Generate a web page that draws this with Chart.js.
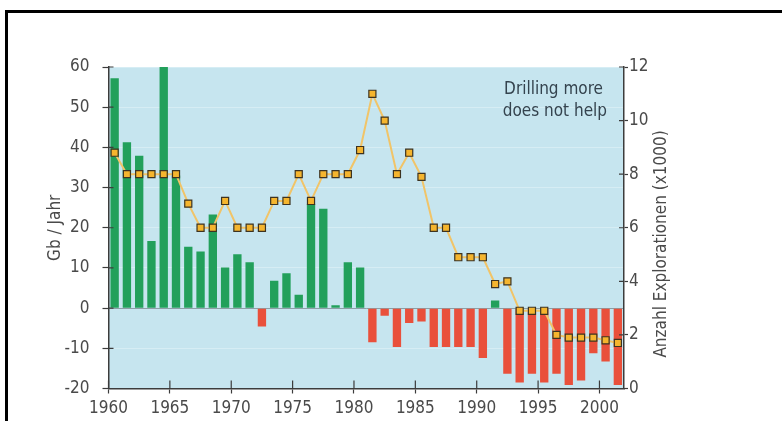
<!DOCTYPE html>
<html>
<head>
<meta charset="utf-8">
<script src="https://cdn.jsdelivr.net/npm/chart.js@4.4.1/dist/chart.umd.min.js"></script>
<style>
  html, body { margin: 0; padding: 0; background: #fff; }
  #wrap { position: relative; width: 782px; height: 421px; overflow: hidden; }
  #frame { position: absolute; left: 5px; top: 10px; width: 820px; height: 460px; border-top: 3px solid #000; border-left: 3px solid #000; }
  #oilChart { position: absolute; left: 0; top: 0; }
</style>
</head>
<body>
<div id="wrap">
  <div id="frame"></div>
  <canvas id="oilChart" width="782" height="421"></canvas>
</div>
<script>
// years shown as bars / markers
const years = [1960, 1961, 1962, 1963, 1964, 1965, 1966, 1967, 1968, 1969,
               1970, 1971, 1972, 1973, 1974, 1975, 1976, 1977, 1978, 1979,
               1980, 1981, 1982, 1983, 1984, 1985, 1986, 1987, 1988, 1989,
               1990, 1991, 1992, 1993, 1994, 1995, 1996, 1997, 1998, 1999,
               2000, 2001];

// Gb / Jahr (left axis)
const gbPerYear = [57.2, 41.3, 37.9, 16.7, 60, 33, 15.3, 14.1, 23.3, 10.1,
                   13.4, 11.4, -4.6, 6.8, 8.7, 3.3, 25.9, 24.7, 0.7, 11.4,
                   10.1, -8.5, -1.9, -9.7, -3.7, -3.3, -9.7, -9.7, -9.7, -9.7,
                   -12.4, 1.9, -16.3, -18.5, -16.3, -18.5, -16.3, -19.1, -18, -11.2,
                   -13.3, -19.1];

// Anzahl Explorationen x1000 (right axis)
const explorations = [8.8, 8, 8, 8, 8, 8, 6.9, 6, 6, 7,
                      6, 6, 6, 7, 7, 8, 7, 8, 8, 8,
                      8.9, 11, 10, 8, 8.8, 7.9, 6, 6, 4.9, 4.9,
                      4.9, 3.9, 4, 2.9, 2.9, 2.9, 2, 1.9, 1.9, 1.9,
                      1.8, 1.7];

const xTicks = [1960, 1965, 1970, 1975, 1980, 1985, 1990, 1995, 2000];
const leftTicks = [-20, -10, 0, 10, 20, 30, 40, 50, 60];
const rightTicks = [0, 2, 4, 6, 8, 10, 12];

const fontFamily = '"Liberation Sans Narrow", "DejaVu Sans Condensed", "Arial Narrow", sans-serif';
const textColor = '#4a4a4a';
const axisColor = '#3c3c3c';

Chart.defaults.font.family = fontFamily;
Chart.defaults.color = textColor;

// light blue plot background
const plotBg = {
    id: 'plotBg',
    beforeDraw(chart) {
        const { ctx, chartArea: a } = chart;
        ctx.save();
        ctx.fillStyle = '#c6e5ef';
        ctx.fillRect(a.left, a.top, a.right - a.left, a.bottom - a.top);
        ctx.restore();
    }
};

// tick marks that also reach into the plot, right title, note text
const extras = {
    id: 'extras',
    afterDatasetsDraw(chart) {
        const { ctx, chartArea: a, scales } = chart;
        ctx.save();
        ctx.strokeStyle = axisColor;
        ctx.lineWidth = 1.2;
        ctx.beginPath();
        xTicks.forEach(v => {
            const px = scales.x.getPixelForValue(v);
            ctx.moveTo(px, a.bottom);
            ctx.lineTo(px, a.bottom - 8);
        });
        leftTicks.forEach(v => {
            const py = scales.y.getPixelForValue(v);
            ctx.moveTo(a.left, py);
            ctx.lineTo(a.left + 5, py);
        });
        rightTicks.forEach(v => {
            const py = scales.y1.getPixelForValue(v);
            ctx.moveTo(a.right, py);
            ctx.lineTo(a.right - 5, py);
        });
        ctx.stroke();

        // right axis title, reads bottom to top
        ctx.fillStyle = textColor;
        ctx.font = '17px ' + fontFamily;
        ctx.textAlign = 'center';
        ctx.textBaseline = 'middle';
        ctx.translate(662, 244);
        ctx.rotate(-Math.PI / 2);
        ctx.fillText('Anzahl Explorationen (x1000)', 0, 0);
        ctx.restore();

        ctx.save();
        ctx.fillStyle = '#34434e';
        ctx.font = '17px ' + fontFamily;
        ctx.textAlign = 'right';
        ctx.textBaseline = 'middle';
        ctx.fillText('Drilling more', a.right - 21, a.top + 23);
        ctx.fillText('does not help', a.right - 17, a.top + 45);
        ctx.restore();
    }
};

const ctx = document.getElementById('oilChart').getContext('2d');
new Chart(ctx, {
    data: {
        datasets: [
            {
                type: 'line',
                label: 'Explorationen',
                yAxisID: 'y1',
                order: 0,
                data: years.map((yr, i) => ({ x: yr + 0.5, y: explorations[i] })),
                borderColor: '#f1c468',
                borderWidth: 2,
                tension: 0,
                pointStyle: 'rect',
                pointRadius: 5,
                pointBackgroundColor: '#f5b52e',
                pointBorderColor: '#3d3320',
                pointBorderWidth: 1.2
            },
            {
                type: 'bar',
                label: 'Gb / Jahr',
                yAxisID: 'y',
                order: 1,
                data: years.map((yr, i) => ({ x: yr + 0.5, y: gbPerYear[i] })),
                backgroundColor: gbPerYear.map(v => v < 0 ? '#e9503b' : '#22a05b'),
                borderWidth: 0,
                barPercentage: 0.68,
                categoryPercentage: 1
            }
        ]
    },
    plugins: [plotBg, extras],
    options: {
        responsive: false,
        animation: false,
        layout: { padding: { top: 67, left: 0, right: 0, bottom: 0 } },
        plugins: {
            legend: { display: false },
            tooltip: { enabled: false }
        },
        scales: {
            x: {
                type: 'linear',
                min: 1960,
                max: 2002,
                offset: false,
                afterBuildTicks: s => { s.ticks = xTicks.map(v => ({ value: v })); },
                afterFit: s => { s.height = 32.5; },
                grid: { drawOnChartArea: false, offset: false, tickLength: 5, tickColor: axisColor, tickWidth: 1.2 },
                border: { color: axisColor, width: 1.5 },
                ticks: {
                    padding: 5,
                    color: textColor,
                    font: { size: 17 },
                    maxRotation: 0,
                    autoSkip: false,
                    callback: v => String(v)
                }
            },
            y: {
                type: 'linear',
                position: 'left',
                min: -20,
                max: 60,
                afterBuildTicks: s => { s.ticks = leftTicks.map(v => ({ value: v })); },
                afterFit: s => { s.width = 108.5; },
                grid: {
                    color: c => (c.tick && c.tick.value === 0) ? '#8c9ea5' : '#d6edf4',
                    lineWidth: 1,
                    tickColor: axisColor,
                    tickLength: 6,
                    tickWidth: 1.2
                },
                border: { color: axisColor, width: 1.5 },
                ticks: { padding: 13, color: textColor, font: { size: 17 } },
                title: {
                    display: true,
                    text: 'Gb / Jahr',
                    color: textColor,
                    font: { size: 17 },
                    padding: { top: 45 }
                }
            },
            y1: {
                type: 'linear',
                position: 'right',
                min: 0,
                max: 12,
                afterBuildTicks: s => { s.ticks = rightTicks.map(v => ({ value: v })); },
                afterFit: s => { s.width = 158; },
                grid: { drawOnChartArea: false, tickColor: axisColor, tickLength: 4, tickWidth: 1.2 },
                border: { color: axisColor, width: 1.5 },
                ticks: { padding: 1, color: textColor, font: { size: 17 } }
            }
        }
    }
});
</script>
</body>
</html>
